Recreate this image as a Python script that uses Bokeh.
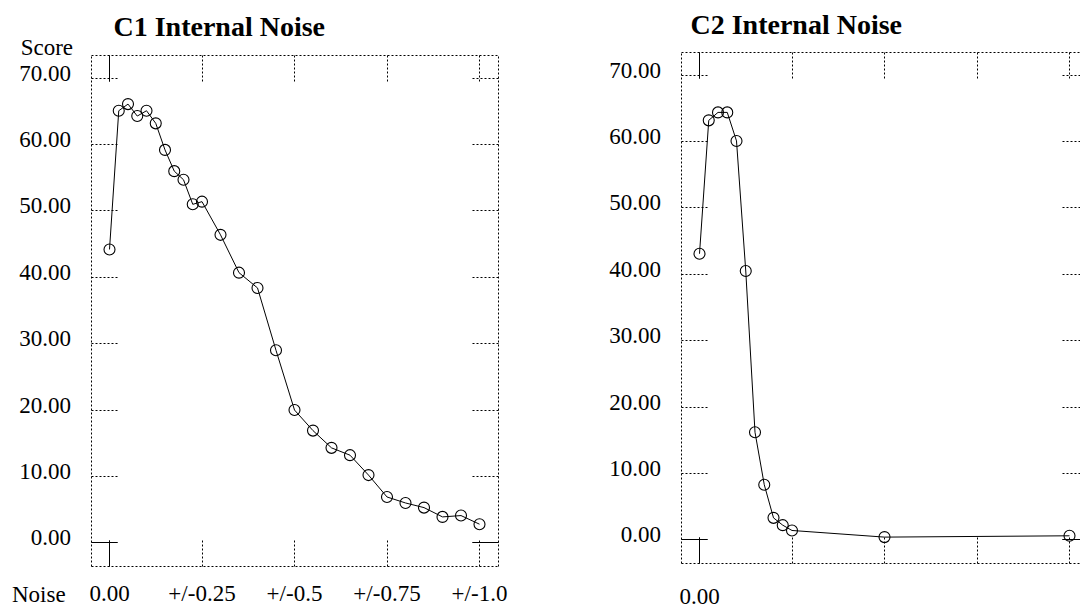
from bokeh.plotting import figure
from bokeh.models import LinearAxis, FixedTicker, Label, Range1d
from bokeh.core.properties import value
from bokeh.layouts import row
from bokeh.embed import file_html
from bokeh.resources import INLINE

# ---------------- data ----------------
c1_noise = [0.0, 0.025, 0.05, 0.075, 0.1, 0.125, 0.15, 0.175, 0.2, 0.225, 0.25,
            0.3, 0.35, 0.4, 0.45, 0.5, 0.55, 0.6, 0.65, 0.7, 0.75, 0.8, 0.85, 0.9, 0.95, 1.0]
c1_score = [44.2, 65.1, 66.1, 64.3, 65.1, 63.2, 59.2, 56.0, 54.7, 51.0, 51.4,
            46.4, 40.7, 38.4, 29.0, 20.0, 16.9, 14.3, 13.2, 10.2, 6.9, 6.0, 5.3, 3.9, 4.1, 2.8]

c2_noise = [0.0, 0.025, 0.05, 0.075, 0.1, 0.125, 0.15, 0.175, 0.2, 0.225, 0.25, 0.5, 1.0]
c2_score = [43.1, 63.2, 64.4, 64.4, 60.1, 40.5, 16.2, 8.3, 3.3, 2.2, 1.4, 0.4, 0.6]

y_ticks = [0, 10, 20, 30, 40, 50, 60, 70]
y_tick_labels = ["0.00", "10.00", "20.00", "30.00", "40.00", "50.00", "60.00", "70.00"]
x_ticks = [0.0, 0.25, 0.5, 0.75, 1.0]
c1_x_labels = ["0.00", "+/-0.25", "+/-0.5", "+/-0.75", "+/-1.0"]
c2_x_labels = ["0.00", "", "", "", ""]

# ---------------- styling / layout ----------------
FONT = "Liberation Serif"
DOT = "2 2"
TICK = 26
X0, X1 = -0.05, 1.05      # dotted box limits (data)
Y0, Y1 = -3.5, 73.5
BOX_L = 90.5              # px of box left inside each canvas
BOX_W, BOX_H = 407, 511
H = 610


def axis(p, side, ticks, loc, bounds, dash, line=True):
    ax = LinearAxis(ticker=FixedTicker(ticks=ticks, minor_ticks=[]),
                    fixed_location=loc, bounds=bounds,
                    major_tick_in=TICK, major_tick_out=0,
                    minor_tick_in=0, minor_tick_out=0,
                    major_tick_line_color="black", major_tick_line_width=1,
                    major_tick_line_dash=dash,
                    axis_line_color="black" if line else None,
                    axis_line_dash=DOT, axis_line_width=1,
                    major_label_text_color=None, major_label_text_font_size="0px")
    p.add_layout(ax, side)


def panel(title, title_dx, title_dy, xs, ys, x_labels, x_lab_dy, width, box_t, names):
    ppx = BOX_W / (X1 - X0)
    ppy = BOX_H / (Y1 - Y0)
    xr = Range1d(X0 - BOX_L / ppx, X0 + (width - BOX_L) / ppx)
    yr = Range1d(Y1 - (H - box_t) / ppy, Y1 + box_t / ppy)
    p = figure(width=width, height=H, x_range=xr, y_range=yr,
               x_axis_location=None, y_axis_location=None,
               toolbar_location=None, output_backend="svg", min_border=0)
    for g in p.grid:
        g.visible = False
    p.outline_line_color = None
    p.background_fill_color = "white"
    p.border_fill_color = "white"

    # dotted box with dotted inward ticks
    axis(p, "left", y_ticks, X0, (Y0, Y1), DOT)
    axis(p, "right", y_ticks, X1, (Y0, Y1), DOT)
    axis(p, "above", x_ticks, Y1, (X0, X1), DOT)
    axis(p, "below", x_ticks, Y0, (X0, X1), DOT)
    # solid ticks on the zero lines
    axis(p, "left", [0], X0, (Y0, Y1), "solid", line=False)
    axis(p, "right", [0], X1, (Y0, Y1), "solid", line=False)
    axis(p, "above", [0.0], Y1, (X0, X1), "solid", line=False)
    axis(p, "below", [0.0], Y0, (X0, X1), "solid", line=False)

    # tick labels
    p.text(x=[X0] * len(y_ticks), y=y_ticks, text=y_tick_labels,
           x_offset=-20, y_offset=-5, text_align="right", text_baseline="middle",
           text_font=value(FONT), text_font_size="23px", text_color="black")
    xt = [t for t, l in zip(x_ticks, x_labels) if l]
    xl = [l for l in x_labels if l]
    p.text(x=xt, y=[Y0] * len(xt), text=xl,
           x_offset=0, y_offset=x_lab_dy, text_align="center", text_baseline="middle",
           text_font=value(FONT), text_font_size="23px", text_color="black")

    # data
    p.line(xs, ys, line_color="black", line_width=1)
    p.scatter(xs, ys, marker="circle", size=11, fill_color=None,
              line_color="black", line_width=1.1)

    p.add_layout(Label(x=X0, y=Y1, x_offset=title_dx, y_offset=title_dy, text=title,
                       text_align="left", text_baseline="middle",
                       text_font=FONT, text_font_size="28px", text_font_style="bold",
                       text_color="black"))
    if names:
        p.add_layout(Label(x=X0, y=Y1, x_offset=-18, y_offset=7.8, text="Score",
                           text_align="right", text_baseline="middle",
                           text_font=FONT, text_font_size="23px", text_color="black"))
        p.add_layout(Label(x=X0, y=Y0, x_offset=-79, y_offset=-28.5, text="Noise",
                           text_align="left", text_baseline="middle",
                           text_font=FONT, text_font_size="23px", text_color="black"))
    return p


p1 = panel("C1 Internal Noise", 22.5, 28.5, c1_noise, c1_score, c1_x_labels, 27,
           590, 54.5, True)
p2 = panel("C2 Internal Noise", 9.5, 27.3, c2_noise, c2_score, c2_x_labels, 33.5,
           490, 51.5, False)

layout = row(p1, p2)
open("out.html", "w").write(file_html(layout, INLINE))
